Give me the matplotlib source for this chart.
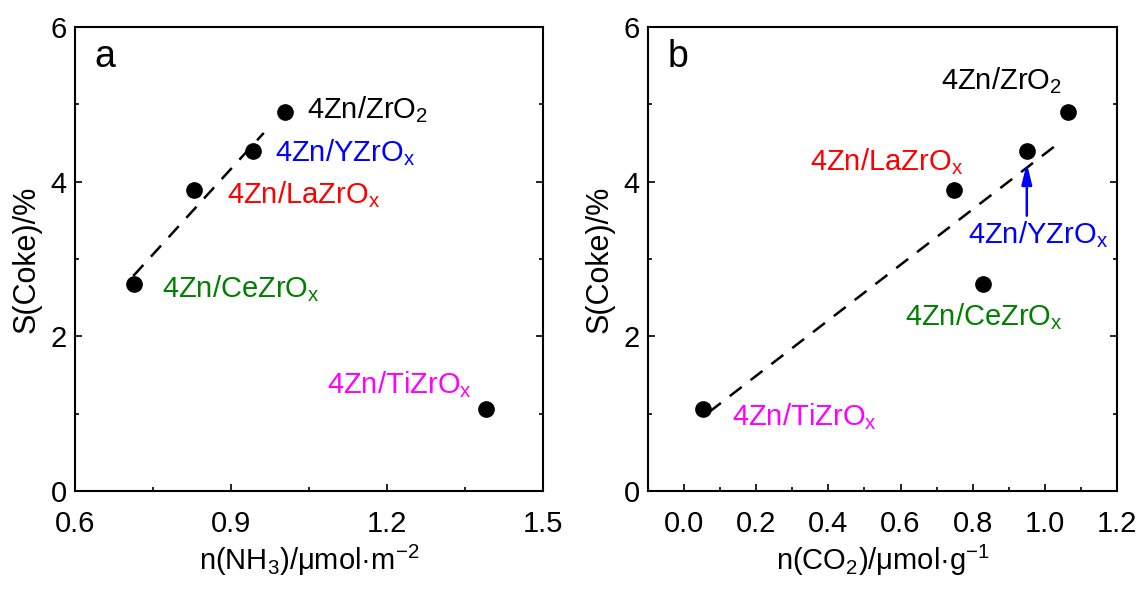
import matplotlib
matplotlib.use("Agg")
import matplotlib.pyplot as plt
from matplotlib.ticker import MultipleLocator

plt.rcParams['font.family'] = ['Liberation Sans', 'DejaVu Sans']
plt.rcParams['mathtext.fontset'] = 'custom'
plt.rcParams['mathtext.rm'] = 'Liberation Sans'
plt.rcParams['mathtext.it'] = 'Liberation Sans'
plt.rcParams['mathtext.default'] = 'regular'

samples = ['4Zn/ZrO$_2$', '4Zn/YZrO$_x$', '4Zn/LaZrO$_x$', '4Zn/CeZrO$_x$', '4Zn/TiZrO$_x$']
colors = ['black', 'blue', 'red', 'green', 'magenta']
coke = [4.90, 4.40, 3.89, 2.68, 1.06]
nh3 = [1.004, 0.942, 0.829, 0.713, 1.390]
co2 = [1.064, 0.950, 0.747, 0.828, 0.053]

fit_a_x = [0.712, 0.963]
fit_a_y = [2.78, 4.63]
fit_b_x = [0.069, 1.025]
fit_b_y = [1.02, 4.45]

# label anchor positions (left edge, baseline) in data coords
lab_a = [(1.046, 4.82), (0.985, 4.26), (0.892, 3.72), (0.767, 2.51), (1.085, 1.27)]
lab_b = [(0.712, 5.19), (0.786, 3.20), (0.350, 4.15), (0.6125, 2.15), (0.133, 0.85)]

FS = 21
fig = plt.figure(figsize=(11.36, 5.89), dpi=100)
axA = fig.add_axes([75/1136, 1-491/589, (543-75)/1136, (491-27)/589])
axB = fig.add_axes([648/1136, 1-491/589, (1117-648)/1136, (491-27)/589])

def style(ax):
    ax.set_ylim(0, 6)
    ax.yaxis.set_major_locator(MultipleLocator(2))
    ax.yaxis.set_minor_locator(MultipleLocator(1))
    ax.tick_params(which='both', direction='in', right=True, top=False, labelsize=FS, width=1.2)
    ax.tick_params(which='major', length=5)
    ax.tick_params(which='minor', length=3)
    ax.tick_params(axis='x', pad=14)
    ax.tick_params(axis='y', pad=6)
    for s in ax.spines.values():
        s.set_linewidth(1.5)
    ax.set_ylabel('S(Coke)/%', fontsize=22, labelpad=6)
    ax.xaxis.set_major_formatter(plt.FuncFormatter(lambda v, p: f'{v:.1f}'))

dash = (0, (6, 4.5))

# Panel a
axA.plot(fit_a_x, fit_a_y, color='black', lw=1.8, ls=dash)
axA.plot(nh3, coke, 'o', color='black', ms=11, ls='none')
for (x, y), t, c in zip(lab_a, samples, colors):
    axA.text(x, y, t, color=c, fontsize=FS, ha='left', va='baseline')
axA.set_xlim(0.6, 1.5)
axA.xaxis.set_major_locator(MultipleLocator(0.3))
axA.xaxis.set_minor_locator(MultipleLocator(0.15))
style(axA)
axA.set_xlabel('n(NH$_3$)/μmol·m$^{-2}$', fontsize=FS, labelpad=3)
axA.text(0.042, 0.935, 'a', transform=axA.transAxes, fontsize=27, ha='left', va='center')

# Panel b
axB.plot(fit_b_x, fit_b_y, color='black', lw=1.8, ls=dash)
axB.plot(co2, coke, 'o', color='black', ms=11, ls='none')
for (x, y), t, c in zip(lab_b, samples, colors):
    axB.text(x, y, t, color=c, fontsize=FS, ha='left', va='baseline')
axB.annotate('', xy=(0.95, 4.24), xytext=(0.95, 3.56),
             arrowprops=dict(arrowstyle='-|>,head_width=0.22,head_length=0.9',
                             color='blue', lw=1.8, mutation_scale=14, shrinkA=0, shrinkB=0))
axB.set_xlim(-0.1, 1.2)
axB.xaxis.set_major_locator(MultipleLocator(0.2))
axB.xaxis.set_minor_locator(MultipleLocator(0.1))
style(axB)
axB.set_xlabel('n(CO$_2$)/μmol·g$^{-1}$', fontsize=FS, labelpad=3)
axB.text(0.042, 0.935, 'b', transform=axB.transAxes, fontsize=27, ha='left', va='center')

fig.savefig('out.png', dpi=100)
